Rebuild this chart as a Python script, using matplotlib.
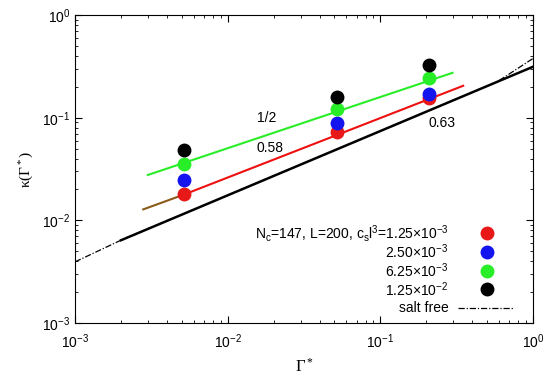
import matplotlib
matplotlib.use("Agg")
import matplotlib.pyplot as plt

plt.rcParams['font.family'] = ['Liberation Sans', 'DejaVu Sans']
plt.rcParams['mathtext.fontset'] = 'custom'
plt.rcParams['mathtext.rm'] = 'Liberation Sans'
plt.rcParams['mathtext.it'] = 'Liberation Sans:italic'

# data
gamma = [0.0052, 0.052, 0.208]
kappa_125e3 = [0.0179, 0.073, 0.155]
kappa_250e3 = [0.0247, 0.0895, 0.169]
kappa_625e3 = [0.0352, 0.121, 0.245]
kappa_125e2 = [0.0485, 0.160, 0.326]

# fitted lines
fit_green_x = [0.0030, 0.297]
fit_green_y = [0.0277, 0.274]
fit_red_x = [0.0052, 0.349]
fit_red_y = [0.0179, 0.205]
fit_brown_x = [0.0028, 0.0052]
fit_brown_y = [0.0128, 0.0179]
fit_black_x = [0.002, 1.0]
fit_black_y = [0.0064, 0.314]

# salt free curve
salt_x = [0.001, 0.002, 0.005, 0.01, 0.03, 0.1, 0.3, 0.58, 1.0]
salt_y = [0.00394, 0.00641, 0.01138, 0.01758, 0.0350, 0.0743, 0.148, 0.223, 0.378]

series = [kappa_125e3, kappa_250e3, kappa_625e3, kappa_125e2]
colors = ['#e81818', '#1414ee', '#28ee28', '#000000']
labels = [r'N$_\mathrm{c}$=147, L=200, c$_\mathrm{s}$l$^3$=1.25$\times$10$^{-3}$',
          r'2.50$\times$10$^{-3}$', r'6.25$\times$10$^{-3}$', r'1.25$\times$10$^{-2}$']

fig = plt.figure(figsize=(5.5, 3.78), dpi=100)
ax = fig.add_axes([0.1364, 0.1455, 0.8327, 0.8145])

ax.plot(salt_x, salt_y, color='black', lw=0.9, ls=(0, (5, 1.5, 1, 1.5)))
ax.plot(fit_black_x, fit_black_y, color='black', lw=1.8)
ax.plot(fit_green_x, fit_green_y, color='#28ee28', lw=1.5)
ax.plot(fit_red_x, fit_red_y, color='#ee1010', lw=1.5)
ax.plot(fit_brown_x, fit_brown_y, color='#8b5a1a', lw=1.5)

for s, c in zip(series, colors):
    ax.plot(gamma, s, 'o', color=c, ms=10, mec='none')

ax.text(0.0181, 0.099, '1/2', fontsize=10, ha='center', va='center')
ax.text(0.0189, 0.0507, '0.58', fontsize=10, ha='center', va='center')
ax.text(0.253, 0.0888, '0.63', fontsize=10, ha='center', va='center')

# key
rows = [0.2912, 0.2305, 0.1698, 0.109]
for yy, c, lab in zip(rows, colors, labels):
    ax.text(0.815, yy, lab, transform=ax.transAxes, fontsize=10, ha='right', va='center')
    ax.plot([0.900], [yy], 'o', color=c, ms=10, mec='none', transform=ax.transAxes)
ax.text(0.815, 0.0487, 'salt free', transform=ax.transAxes, fontsize=10, ha='right', va='center')
ax.plot([0.836, 0.956], [0.0487, 0.0487], color='black', lw=0.9, ls=(0, (5, 1.5, 1, 1.5)),
        transform=ax.transAxes)

ax.set_xscale('log')
ax.set_yscale('log')
ax.set_xlim(1e-3, 1)
ax.set_ylim(1e-3, 1)
ax.tick_params(which='both', direction='in', top=True, right=True, labelsize=10)
ax.tick_params(which='major', length=5)
ax.tick_params(which='minor', length=2.5)
ax.tick_params(axis='x', pad=7)
ax.set_xlabel(r'$\mathdefault{\Gamma^*}$', fontfamily='Liberation Serif', fontsize=12, labelpad=5)
ax.set_ylabel(r'$\mathdefault{\kappa(\Gamma^*)}$', fontfamily='Liberation Serif', fontsize=11, labelpad=4)

fig.savefig('out.png', dpi=100)
